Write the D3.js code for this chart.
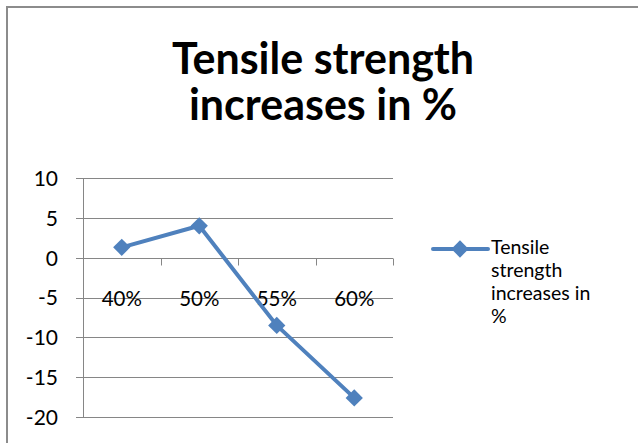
<!DOCTYPE html>
<html>
<head>
<meta charset="utf-8">
<script src="https://cdn.jsdelivr.net/npm/d3@7"></script>
<style>
  html, body { margin: 0; padding: 0; background: #fff; }
  svg { display: block; }
  text { font-family: Lato, "Open Sans", "Liberation Sans", sans-serif; fill: #000; }
</style>
</head>
<body>
<svg id="chart" width="638" height="443"></svg>
<script>
// Chart data
const titleLines = ["Tensile strength", "increases in %"];
const categories = ["40%", "50%", "55%", "60%"];
const values = [1.3, 4.0, -8.5, -17.6];
const yTicks = [10, 5, 0, -5, -10, -15, -20];
const seriesName = "Tensile strength increases in %";
const legendLines = ["Tensile", "strength", "increases in", "%"];

const svg = d3.select("#chart");
const blue = "#4F81BD";
const gridColor = "#868686";
const labelFont = "Lato, 'Open Sans', sans-serif";

// Outer chart frame (runs off the right and bottom edges)
svg.append("path")
  .attr("d", "M7,445 L7,7 L640,7")
  .attr("fill", "none")
  .attr("stroke", "#8c8c8c")
  .attr("stroke-width", 2);

// Title, wrapped onto two lines
svg.append("text")
  .attr("text-anchor", "middle")
  .attr("font-size", 43)
  .attr("font-weight", "bold")
  .selectAll("tspan")
  .data(titleLines)
  .join("tspan")
  .attr("x", 323)
  .attr("y", (d, i) => 74 + i * 46)
  .text(d => d);

// Scales
const plotLeft = 83, plotRight = 393;
const x = d3.scaleBand().domain(categories).range([plotLeft, plotRight]).padding(0);
const y = d3.scaleLinear().domain([-20, 10]).range([417, 178]);

// Horizontal gridlines
svg.append("g").selectAll("line")
  .data(yTicks)
  .join("line")
  .attr("x1", plotLeft - 7)
  .attr("x2", plotRight)
  .attr("y1", d => Math.round(y(d)) + 0.5)
  .attr("y2", d => Math.round(y(d)) + 0.5)
  .attr("stroke", gridColor)
  .attr("stroke-width", 1);

// Vertical value axis
svg.append("line")
  .attr("x1", plotLeft + 0.5).attr("x2", plotLeft + 0.5)
  .attr("y1", y(10)).attr("y2", y(-20))
  .attr("stroke", gridColor);

// Value axis labels (plain hyphen for negatives)
const yAxis = d3.axisLeft(y).tickValues(yTicks).tickSize(0).tickPadding(0)
  .tickFormat(d => String(d));
const yg = svg.append("g").attr("transform", `translate(${plotLeft - 25},0)`).call(yAxis);
yg.select(".domain").remove();
yg.selectAll("text")
  .attr("font-size", 21)
  .attr("font-family", labelFont)
  .attr("fill", "#000")
  .attr("dy", "0.35em");

// Category axis along zero with tick marks between categories
const xAxis = d3.axisBottom(x).tickSize(0).tickPadding(0);
const xg = svg.append("g").attr("transform", `translate(0,${Math.round(y(0)) + 0.5})`).call(xAxis);
xg.select(".domain").attr("stroke", gridColor).attr("d", `M${plotLeft},0H${plotRight}`);
xg.selectAll("text")
  .attr("font-size", 20.5)
  .attr("font-family", labelFont)
  .attr("fill", "#000")
  .attr("y", 47)
  .attr("dy", 0);
const boundaries = categories.map(c => x(c)).concat([plotRight]);
xg.selectAll(".cat-tick")
  .data(boundaries)
  .join("line")
  .attr("class", "cat-tick")
  .attr("x1", d => Math.round(d) + 0.5).attr("x2", d => Math.round(d) + 0.5)
  .attr("y1", 0).attr("y2", 7)
  .attr("stroke", gridColor);

// Series line
const cx = d => x(d.cat) + x.bandwidth() / 2;
const pts = categories.map((c, i) => ({ cat: c, v: values[i] }));
svg.append("path")
  .datum(pts)
  .attr("fill", "none")
  .attr("stroke", blue)
  .attr("stroke-width", 4)
  .attr("stroke-linejoin", "round")
  .attr("d", d3.line().x(cx).y(d => y(d.v)));

// Diamond markers
const diamond = d3.symbol().type(d3.symbolDiamond2).size(190);
svg.append("g").selectAll("path")
  .data(pts)
  .join("path")
  .attr("transform", d => `translate(${cx(d)},${y(d.v)})`)
  .attr("d", diamond)
  .attr("fill", blue);

// Legend
const lg = svg.append("g");
lg.append("line")
  .attr("x1", 433).attr("x2", 488)
  .attr("y1", 249).attr("y2", 249)
  .attr("stroke", blue).attr("stroke-width", 4).attr("stroke-linecap", "round");
lg.append("path")
  .attr("transform", "translate(460,249)")
  .attr("d", diamond)
  .attr("fill", blue);
lg.append("text")
  .attr("font-size", 19.5)
  .selectAll("tspan")
  .data(legendLines)
  .join("tspan")
  .attr("x", 491)
  .attr("y", (d, i) => 254 + i * 23)
  .text(d => d);
</script>
</body>
</html>
